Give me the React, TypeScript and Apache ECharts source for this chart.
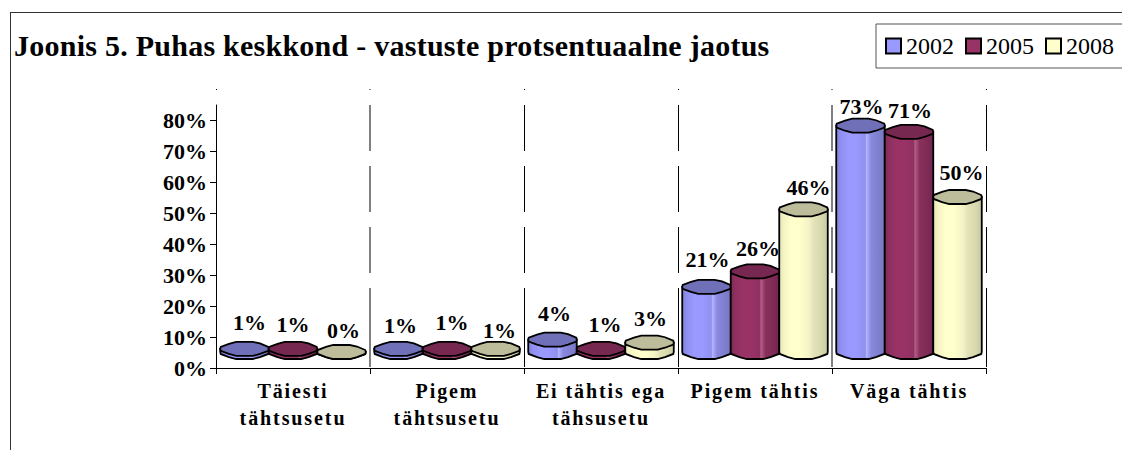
import React, { useEffect, useRef } from "react";
import * as echarts from "echarts";

const categories = ["Täiesti\ntähtsusetu", "Pigem\ntähtsusetu", "Ei tähtis ega\ntähsusetu", "Pigem tähtis", "Väga tähtis"];
const years = ["2002", "2005", "2008"];
const values2002 = [1, 1, 4, 21, 73];
const values2005 = [1, 1, 1, 26, 71];
const values2008 = [0, 1, 3, 46, 50];
const allValues = [values2002, values2005, values2008];
const yTicks = [0, 10, 20, 30, 40, 50, 60, 70, 80];

// Styling of the three cylinders: body shading stops and top-face colour
const bodyStops = [
  ["#8080e0", "#9090f0", "#9999ff", "#9999ff", "#9090ee", "#b4b4ff", "#8888dd", "#7f7fd0", "#7676c0"],
  ["#802a55", "#8f3060", "#993366", "#993366", "#903062", "#b45f88", "#88305c", "#7f2b56", "#702550"],
  ["#e6e6b8", "#f4f4c4", "#ffffcc", "#ffffcc", "#f4f4c4", "#f0f0cc", "#e2e2b6", "#d8d8ae", "#c8c8a2"],
];
const topColors = ["#7070b8", "#772850", "#bdbd9c"];
const swatchColors = ["#9999ff", "#993366", "#ffffcc"];

// Outline of the faceted top face, in fractions of its half-width / half-height
const capOutline: number[][] = [
  [-1, 0], [-0.98, -0.28], [-0.64, -0.72], [-0.34, -1], [0.34, -1], [0.64, -0.78], [0.98, -0.28],
  [1, 0], [0.98, 0.28], [0.64, 0.72], [0.34, 1], [-0.34, 1], [-0.64, 0.72], [-0.98, 0.28],
];

// Nudges of data labels, in pixels, relative to the bar's top face
const labelDx = [[5, 0, 2], [2, 5, 4], [2, 4, 1], [1, 3, 5], [1, 1, 4]];
const labelDy = [[-26, -24, -22], [-23, -26, -18], [-26, -24, -24], [-27, -23, -22], [-19, -21, -25]];

const BAR_FRACTION = 0.315;
const CAP_RY = 7;
const LIFT = 16;

function makeRenderItem(k: number) {
  return (params: any, api: any) => {
    const cat = api.value(0);
    const val = api.value(1);
    const bw = api.size([1, 0])[0] * BAR_FRACTION;
    const p = api.coord([cat, val]);
    const base = api.coord([cat, 0]);
    const cx = p[0] + (k - 1) * bw;
    const rx = bw / 2;
    const topY = p[1] - LIFT;
    const botY = base[1] - LIFT;
    const rightToLeft = capOutline.slice(7).map(([a, b]) => [cx + a * rx, botY + b * CAP_RY]);
    const body = [[cx + rx, topY], ...rightToLeft, [cx - rx, botY], [cx - rx, topY]];
    const stops = bodyStops[k];
    const pos = [0, 0.1, 0.25, 0.42, 0.6, 0.62, 0.72, 0.88, 1];
    const fill = new echarts.graphic.LinearGradient(0, 0, 1, 0, stops.map((color, i) => ({ offset: pos[i], color })));
    const cap = capOutline.map(([a, b]) => [cx + a * rx, topY + b * CAP_RY]);
    return {
      type: "group",
      children: [
        { type: "polygon", shape: { points: body }, style: { fill, stroke: "#000", lineWidth: 1.8 } },
        { type: "polygon", shape: { points: cap }, style: { fill: topColors[k], stroke: "#000", lineWidth: 1.8 } },
        {
          type: "text",
          z2: 10,
          style: {
            x: cx + labelDx[cat][k],
            y: topY + labelDy[cat][k],
            text: `${val}%`,
            fill: "#000",
            font: 'bold 22px "Liberation Serif"',
            align: "center",
            verticalAlign: "middle",
          },
        },
      ],
    };
  };
}

export default function App() {
  const ref = useRef<HTMLDivElement>(null);
  useEffect(() => {
    document.body.style.margin = "0";
    const chart = echarts.init(ref.current!, undefined, { renderer: "svg" });
    const dash = [1, 15, 46, 15, 46, 15, 46, 15, 79];
    chart.setOption({
      animation: false,
      backgroundColor: "#fff",
      textStyle: { fontFamily: "Liberation Serif" },
      title: {
        text: "Joonis 5. Puhas keskkond - vastuste protsentuaalne jaotus",
        left: 14,
        top: 30,
        padding: 0,
        textStyle: { fontFamily: "Liberation Serif", fontWeight: "bold", fontSize: 30, color: "#000" },
      },
      legend: {
        data: years,
        left: 876,
        top: 24,
        width: 260,
        padding: [10, 20, 10, 9],
        itemGap: 11,
        itemWidth: 15,
        itemHeight: 15,
        icon: "rect",
        borderColor: "#555",
        borderWidth: 1,
        backgroundColor: "#fff",
        textStyle: { fontFamily: "Liberation Serif", fontSize: 24, color: "#000" },
      },
      grid: { left: 216, top: 89, width: 770, height: 279 },
      xAxis: [
        {
          type: "category",
          data: categories,
          axisLine: { lineStyle: { color: "#000", width: 1 } },
          axisTick: { show: true, length: 6, lineStyle: { color: "#000" } },
          axisLabel: {
            interval: 0,
            margin: 9,
            lineHeight: 27,
            color: "#000",
            fontFamily: "Liberation Serif",
            fontWeight: "bold",
            fontSize: 20,
          },
          splitLine: {
            show: true,
            lineStyle: { color: ["#000", "transparent", "#000", "#000", "transparent", "#000"], width: 1, type: dash },
          },
        },
        {
          type: "category",
          data: categories,
          axisLine: { show: false },
          axisTick: { show: false },
          axisLabel: { show: false },
          splitLine: {
            show: true,
            lineStyle: {
              color: ["transparent", "#808080", "transparent", "transparent", "#808080", "transparent"],
              width: 2,
              type: dash,
            },
          },
        },
      ],
      yAxis: {
        type: "value",
        min: 0,
        max: 90,
        interval: 10,
        axisLine: { show: true, lineStyle: { color: "#000", width: 1, type: [263, 16, 1] } },
        axisTick: { show: true, length: 6, customValues: yTicks, lineStyle: { color: "#000" } },
        axisLabel: {
          margin: 9,
          color: "#000",
          fontFamily: "Liberation Serif",
          fontWeight: "bold",
          fontSize: 22,
          customValues: yTicks,
          formatter: (v: number) => `${v}%`,
        },
        splitLine: { show: false },
      },
      graphic: [
        { type: "rect", silent: true, z: 100, shape: { x: 10, y: 12, width: 1, height: 438 }, style: { fill: "#333" } },
        { type: "rect", silent: true, z: 100, shape: { x: 10, y: 12, width: 1112, height: 1 }, style: { fill: "#333" } },
      ],
      series: years.map((name, k) => ({
        name,
        type: "custom",
        renderItem: makeRenderItem(k),
        clip: false,
        itemStyle: { color: swatchColors[k], borderColor: "#000", borderWidth: 1.5 },
        encode: { x: 0, y: 1 },
        data: allValues[k].map((v, i) => [i, v]),
      })),
    });
    return () => chart.dispose();
  }, []);
  return (
    <>
      <style>{`text[style*="20px"]{letter-spacing:1.9px}text[style*="30px"]{letter-spacing:.25px}`}</style>
      <div ref={ref} style={{ width: 1122, height: 450 }} />
    </>
  );
}
